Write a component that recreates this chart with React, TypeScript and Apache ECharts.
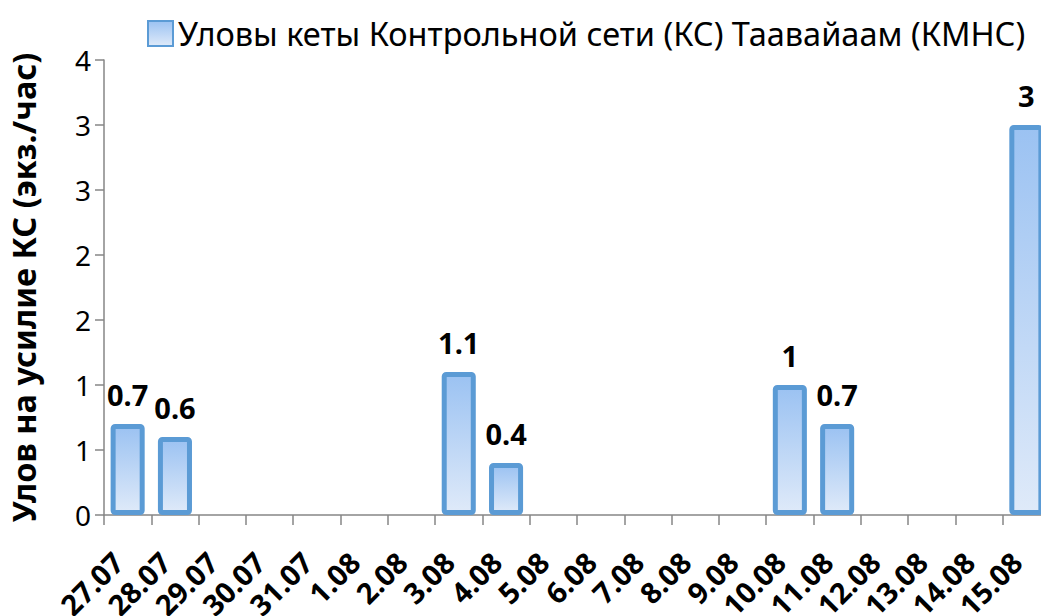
import React, { useEffect, useRef } from "react";
import * as echarts from "echarts";

const categories = [
  "27.07", "28.07", "29.07", "30.07", "31.07", "1.08", "2.08", "3.08", "4.08", "5.08",
  "6.08", "7.08", "8.08", "9.08", "10.08", "11.08", "12.08", "13.08", "14.08", "15.08",
];
const catchValues: (number | null)[] = [
  0.7, 0.6, null, null, null, null, null, 1.1, 0.4, null,
  null, null, null, null, 1, 0.7, null, null, null, 3,
];
const seriesName = "Уловы кеты Контрольной сети (КС) Таавайаам (КМНС)";
const yAxisTitle = "Улов на усилие КС (экз./час)";
const yMin = 0;
const yMax = 3.5;
const yInterval = 0.5;

const FONT = "Noto Sans";

export default function App() {
  const ref = useRef<HTMLDivElement>(null);
  useEffect(() => {
    if (!ref.current) return;
    const chart = echarts.init(ref.current, null, { renderer: "svg" });
    const fill = new echarts.graphic.LinearGradient(0, 0, 0, 1, [
      { offset: 0, color: "#9bc2f2" },
      { offset: 1, color: "#dfeaf9" },
    ]);
    chart.setOption({
      animation: false,
      textStyle: { fontFamily: FONT },
      legend: {
        data: [seriesName],
        left: 142,
        top: 12,
        itemWidth: 25,
        itemHeight: 25,
        icon: "rect",
        textStyle: { fontFamily: FONT, fontSize: 32.5, color: "#000" },
      },
      grid: {
        left: 104,
        right: 0,
        top: 60,
        bottom: 101,
        containLabel: false,
        outerBoundsMode: "none",
      },
      xAxis: {
        type: "category",
        data: categories,
        axisLine: { lineStyle: { color: "#868686", width: 1.5 } },
        axisTick: { show: true, length: 10, lineStyle: { color: "#868686", width: 1.5 } },
        axisLabel: {
          interval: 0,
          rotate: 45,
          margin: 32,
          padding: [0, 14, 0, 0],
          fontFamily: FONT,
          fontSize: 29,
          fontWeight: "bold",
          color: "#000",
        },
      },
      yAxis: {
        type: "value",
        min: yMin,
        max: yMax,
        interval: yInterval,
        name: yAxisTitle,
        nameLocation: "middle",
        nameRotate: 90,
        nameGap: 64,
        nameTextStyle: { fontFamily: FONT, fontSize: 32.5, fontWeight: "bold", color: "#000" },
        axisLine: { show: true, lineStyle: { color: "#868686", width: 1.5 } },
        axisTick: { show: true, length: 9, lineStyle: { color: "#868686", width: 1.5 } },
        splitLine: { show: false },
        axisLabel: {
          margin: 13,
          fontFamily: FONT,
          fontSize: 28,
          color: "#000",
          formatter: (v: number) => String(Math.round(v)),
        },
      },
      series: [
        {
          name: seriesName,
          type: "bar",
          data: catchValues,
          barWidth: "72%",
          itemStyle: {
            color: fill,
            borderColor: "#5b9bd5",
            borderWidth: 5,
            borderRadius: 2,
          },
          label: {
            show: true,
            position: "top",
            distance: 15,
            fontFamily: FONT,
            fontSize: 29,
            fontWeight: "bold",
            color: "#000",
          },
        },
      ],
    });
    return () => chart.dispose();
  }, []);
  return (
    <div
      style={{ position: "absolute", left: 0, top: 0, width: 1041, height: 616, overflow: "hidden", background: "#fff" }}
    >
      <div ref={ref} style={{ width: 1050, height: 616 }} />
    </div>
  );
}
